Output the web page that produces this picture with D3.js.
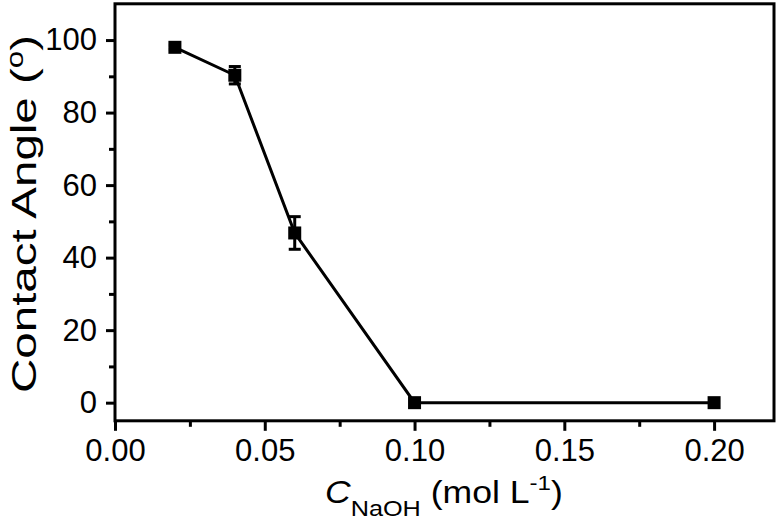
<!DOCTYPE html>
<html>
<head>
<meta charset="utf-8">
<script src="https://cdn.jsdelivr.net/npm/d3@7"></script>
<style>
  body { margin: 0; background: #fff; }
  svg { display: block; font-family: "Liberation Sans", Arial, sans-serif; }
</style>
</head>
<body>
<svg id="chart" width="777" height="522"></svg>
<script>
var concentrations = [0.02, 0.04, 0.06, 0.10, 0.20];
var angles = [98.0, 90.3, 46.8, 0, 0];
var angleErrors = [0.6, 2.4, 4.5, 0, 0];

var xTicks = [0, 0.05, 0.10, 0.15, 0.20];
var xMinor = [0.025, 0.075, 0.125, 0.175];
var yTicks = [0, 20, 40, 60, 80, 100];
var yMinor = [10, 30, 50, 70, 90];

var svg = d3.select('#chart');

var x = d3.scaleLinear().domain([0, 0.22]).range([115, 774]);
var y = d3.scaleLinear().domain([-5, 110]).range([420.8, 3.8]);

// minor ticks first (no labels)
svg.append('g')
  .attr('transform', 'translate(0,' + y(-5) + ')')
  .call(d3.axisBottom(x).tickValues(xMinor).tickSize(6).tickFormat(''))
  .call(function(g) { g.select('.domain').remove(); })
  .selectAll('line').attr('stroke-width', 3);

svg.append('g')
  .attr('transform', 'translate(' + x(0) + ',0)')
  .call(d3.axisLeft(y).tickValues(yMinor).tickSize(6).tickFormat(''))
  .call(function(g) { g.select('.domain').remove(); })
  .selectAll('line').attr('stroke-width', 3);

// major ticks
var xAxis = svg.append('g')
  .attr('transform', 'translate(0,' + y(-5) + ')')
  .call(d3.axisBottom(x).tickValues(xTicks).tickSize(10).tickPadding(8).tickFormat(d3.format('.2f')));
xAxis.select('.domain').remove();
xAxis.selectAll('line').attr('stroke-width', 3);
xAxis.selectAll('text').attr('font-size', 31).attr('fill', '#000')
  .style('font-family', '"Liberation Sans", Arial, sans-serif');

var yAxis = svg.append('g')
  .attr('transform', 'translate(' + x(0) + ',0)')
  .call(d3.axisLeft(y).tickValues(yTicks).tickSize(9).tickPadding(9).tickFormat(d3.format('d')));
yAxis.select('.domain').remove();
yAxis.selectAll('line').attr('stroke-width', 3);
yAxis.selectAll('text').attr('font-size', 31).attr('fill', '#000')
  .style('font-family', '"Liberation Sans", Arial, sans-serif');

// frame
svg.append('rect')
  .attr('x', x(0))
  .attr('y', y(110))
  .attr('width', x(0.22) - x(0))
  .attr('height', y(-5) - y(110))
  .attr('fill', 'none')
  .attr('stroke', '#000')
  .attr('stroke-width', 3);

// data line
var line = d3.line()
  .x(function(d, i) { return x(concentrations[i]); })
  .y(function(d) { return y(d); });

svg.append('path')
  .datum(angles)
  .attr('d', line)
  .attr('fill', 'none')
  .attr('stroke', '#000')
  .attr('stroke-width', 3);

// error bars
var capW = 12;
var errs = svg.append('g');
angles.forEach(function(a, i) {
  if (angleErrors[i] <= 0) return;
  var cx = x(concentrations[i]);
  var top = y(a + angleErrors[i]);
  var bot = y(a - angleErrors[i]);
  errs.append('line').attr('x1', cx).attr('x2', cx).attr('y1', top).attr('y2', bot)
    .attr('stroke', '#000').attr('stroke-width', 3);
  [top, bot].forEach(function(yy) {
    errs.append('line').attr('x1', cx - capW / 2).attr('x2', cx + capW / 2)
      .attr('y1', yy).attr('y2', yy)
      .attr('stroke', '#000').attr('stroke-width', 3);
  });
});

// square markers
var sz = 13;
svg.append('g').selectAll('rect')
  .data(angles)
  .enter().append('rect')
  .attr('x', function(d, i) { return x(concentrations[i]) - sz / 2; })
  .attr('y', function(d) { return y(d) - sz / 2; })
  .attr('width', sz)
  .attr('height', sz)
  .attr('fill', '#000');

// x axis label
var xl = svg.append('g');
var xt = xl.append('text').attr('x', 0).attr('y', 0).attr('font-size', 31).attr('fill', '#000');
xt.append('tspan').attr('font-style', 'italic').text('C');
xt.append('tspan').attr('font-size', 22).attr('dy', 13).text('NaOH');
xt.append('tspan').attr('dy', -13).text(' (mol L');
xt.append('tspan').attr('font-size', 21).attr('dy', -13).text('-1');
xt.append('tspan').attr('dy', 13).text(')');
var xb = xt.node().getBBox();
var xsx = 238 / xb.width;
xl.attr('transform', 'translate(' + (444 - xb.width * xsx / 2) + ',503) scale(' + xsx + ',1)');
xt.attr('x', -xb.x);

// y axis label
var yl = svg.append('g');
var yt = yl.append('text').attr('font-size', 35).attr('fill', '#000');
yt.append('tspan').text('Contact Angle (');
yt.append('tspan').attr('font-size', 23).attr('dy', -13).text('o');
yt.append('tspan').attr('dy', 13).text(')');
var yb = yt.node().getBBox();
var ysx = 358 / yb.width;
yt.attr('x', -yb.width / 2 - yb.x);
yl.attr('transform', 'translate(36,214) rotate(-90) scale(' + ysx + ',1)');
</script>
</body>
</html>
